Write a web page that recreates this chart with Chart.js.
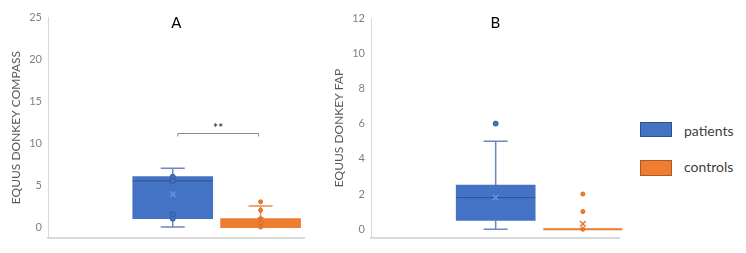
<!DOCTYPE html>
<html>
<head>
<meta charset="utf-8">
<script src="https://cdn.jsdelivr.net/npm/chart.js@4.4.0/dist/chart.umd.min.js"></script>
<style>
  body { margin: 0; background: #fff; width: 746px; height: 253px; position: relative; overflow: hidden; font-family: Lato, sans-serif; }
  #wrapA { position: absolute; left: 0; top: 0; width: 310px; height: 253px; }
  #wrapB { position: absolute; left: 323px; top: 0; width: 302px; height: 253px; }
  .legBox { position: absolute; left: 640px; width: 32px; height: 15px; box-sizing: border-box; }
  .legTxt { position: absolute; left: 684px; font-size: 14px; color: #404040; line-height: 16px; }
</style>
</head>
<body>
<div id="wrapA"><canvas id="chartA"></canvas></div>
<div id="wrapB"><canvas id="chartB"></canvas></div>
<div class="legBox" style="top:122px;background:#4472C4;border:1px solid #2F528F;"></div>
<div class="legTxt" style="top:123px;">patients</div>
<div class="legBox" style="top:160px;height:16px;background:#ED7D31;border:1px solid #AE5A21;"></div>
<div class="legTxt" style="top:159px;">controls</div>
<script>
// series order everywhere: [patients, controls]
const categories = ['patients', 'controls'];
const titleA = 'A';
const titleB = 'B';
const yTitleA = 'EQUUS DONKEY COMPASS';
const yTitleB = 'EQUUS DONKEY FAP';
const yTicksA = [0, 5, 10, 15, 20, 25];
const yTicksB = [0, 2, 4, 6, 8, 10, 12];

// panel A - compass
const compassMin = [0, 0];
const compassQ1 = [1, 0];
const compassMedian = [5.5, 0];
const compassQ3 = [6, 1];
const compassMax = [7, 2.5];
const compassMean = [3.9, 0.8];
const compassPoints = [[6, 5.5, 1.5, 1], [3, 2, 1, 0.5, 0]];
const compassSigLevel = 11.2;
const compassSigText = '**';

// panel B - FAP
const fapMin = [0, 0];
const fapQ1 = [0.5, 0];
const fapMedian = [1.8, 0];
const fapQ3 = [2.5, 0];
const fapMax = [5, 0];
const fapMean = [1.8, 0.3];
const fapPoints = [[6], [2, 1, 0]];

const fillColors = ['#4472C4', '#ED7D31'];
const whiskerColors = ['#6d87bf', '#EE8A4A'];
const medianColors = ['#2F5597', '#ED7D31'];
const pointColors = ['#4472C4', '#ED7D31'];
const pointBorders = ['#3558a0', '#D96A22'];
const meanColors = ['#6f90d4', '#E0732A'];

const boxParts = {
    id: 'boxParts',
    beforeDatasetsDraw(chart, args, opts) {
        const ctx = chart.ctx, x = chart.scales.x, y = chart.scales.y;
        const s = opts.stats;
        ctx.save();
        ctx.lineWidth = 1.5;
        categories.forEach((c, i) => {
            if (s.max[i] === s.min[i]) return;
            const cx = x.getPixelForValue(i + 1);
            ctx.strokeStyle = whiskerColors[i];
            ctx.beginPath();
            ctx.moveTo(cx, y.getPixelForValue(s.min[i]));
            ctx.lineTo(cx, y.getPixelForValue(s.q1[i]));
            ctx.moveTo(cx, y.getPixelForValue(s.q3[i]));
            ctx.lineTo(cx, y.getPixelForValue(s.max[i]));
            [s.min[i], s.max[i]].forEach(v => {
                const py = y.getPixelForValue(v);
                ctx.moveTo(cx - 12, py);
                ctx.lineTo(cx + 12, py);
            });
            ctx.stroke();
        });
        ctx.restore();
    },
    afterDatasetDraw(chart, args, opts) {
        if (args.meta.type !== 'bar') return;
        const i = args.index;
        const ctx = chart.ctx, x = chart.scales.x, y = chart.scales.y;
        const cx = x.getPixelForValue(i + 1);
        const py = y.getPixelForValue(opts.stats.median[i]);
        ctx.save();
        ctx.strokeStyle = medianColors[i];
        ctx.lineWidth = i === 0 ? 1 : 2;
        ctx.beginPath();
        ctx.moveTo(cx - opts.boxWidth / 2, py);
        ctx.lineTo(cx + opts.boxWidth / 2, py);
        ctx.stroke();
        ctx.restore();
    },
    afterDraw(chart, args, opts) {
        const ctx = chart.ctx, x = chart.scales.x, y = chart.scales.y, a = chart.chartArea;
        ctx.save();
        ctx.fillStyle = '#000';
        ctx.font = '15px Lato, sans-serif';
        ctx.textAlign = 'center';
        ctx.textBaseline = 'middle';
        ctx.fillText(opts.title, (a.left + a.right) / 2, 23);
        if (opts.sigText) {
            const x1 = x.getPixelForValue(1) + 5, x2 = x.getPixelForValue(2) - 2;
            const py = Math.round(y.getPixelForValue(opts.sigLevel)) + 0.5;
            ctx.strokeStyle = '#8c8c8c';
            ctx.lineWidth = 1;
            ctx.beginPath();
            ctx.moveTo(x1, py + 3);
            ctx.lineTo(x1, py);
            ctx.lineTo(x2, py);
            ctx.lineTo(x2, py + 3);
            ctx.stroke();
            ctx.fillStyle = '#404040';
            ctx.font = 'bold 12px Lato, sans-serif';
            ctx.fillText(opts.sigText, (x1 + x2) / 2, py - 5);
        }
        ctx.restore();
    }
};

function makePanel(id, cfg) {
    const datasets = [];
    categories.forEach((c, i) => {
        datasets.push({
            type: 'bar',
            label: c,
            data: [{ x: i + 1, y: [cfg.stats.q1[i], cfg.stats.q3[i]] }],
            backgroundColor: fillColors[i],
            borderWidth: 0,
            barThickness: cfg.boxWidth,
            grouped: false,
            order: 3
        });
    });
    categories.forEach((c, i) => {
        datasets.push({
            type: 'scatter',
            label: c + ' points',
            data: cfg.points[i].map(v => ({ x: i + 1, y: v })),
            pointStyle: 'circle',
            pointRadius: i === 0 ? 2.5 : 2,
            backgroundColor: pointColors[i],
            borderColor: pointBorders[i],
            borderWidth: 1,
            order: 1
        });
        datasets.push({
            type: 'scatter',
            label: c + ' mean',
            data: [{ x: i + 1, y: cfg.stats.mean[i] }],
            pointStyle: 'crossRot',
            pointRadius: 4,
            borderColor: meanColors[i],
            borderWidth: 1.5,
            order: 0
        });
    });

    return new Chart(document.getElementById(id), {
        type: 'bar',
        data: { datasets: datasets },
        plugins: [boxParts],
        options: {
            responsive: true,
            maintainAspectRatio: false,
            animation: false,
            layout: { padding: { left: 0, top: cfg.padTop, right: 5, bottom: 15 } },
            plugins: {
                legend: { display: false },
                tooltip: { enabled: false },
                boxParts: {
                    stats: cfg.stats,
                    boxWidth: cfg.boxWidth,
                    title: cfg.title,
                    sigLevel: cfg.sigLevel,
                    sigText: cfg.sigText
                }
            },
            scales: {
                x: {
                    type: 'linear',
                    offset: false,
                    min: cfg.xMin,
                    max: cfg.xMax,
                    ticks: { display: false },
                    grid: { display: false, drawTicks: false, tickLength: 0 },
                    border: { display: true, color: '#d9d9d9', width: 2 }
                },
                y: {
                    min: cfg.yMin,
                    max: cfg.yMax,
                    afterBuildTicks: s => { s.ticks = cfg.yTicks.map(v => ({ value: v })); },
                    afterFit: s => { s.width = 48; },
                    ticks: {
                        padding: 6,
                        color: '#808080',
                        font: { family: 'Lato, sans-serif', size: 11 }
                    },
                    grid: { display: false, drawTicks: false, tickLength: 0 },
                    border: { display: true, color: '#d9d9d9', width: 1 },
                    title: {
                        display: true,
                        text: cfg.yTitle,
                        color: '#595959',
                        padding: { top: 9, bottom: 0 },
                        font: { family: 'Lato, sans-serif', size: 12 }
                    }
                }
            }
        }
    });
}

makePanel('chartA', {
    title: titleA,
    yTitle: yTitleA,
    yTicks: yTicksA,
    yMin: -1.3,
    yMax: 25,
    xMin: -0.42,
    xMax: 2.5,
    padTop: 17,
    boxWidth: 80,
    points: compassPoints,
    sigLevel: compassSigLevel,
    sigText: compassSigText,
    stats: { min: compassMin, q1: compassQ1, median: compassMedian, q3: compassQ3, max: compassMax, mean: compassMean }
});

makePanel('chartB', {
    title: titleB,
    yTitle: yTitleB,
    yTicks: yTicksB,
    yMin: -0.5,
    yMax: 12,
    xMin: -0.43,
    xMax: 2.42,
    padTop: 18,
    boxWidth: 79,
    points: fapPoints,
    stats: { min: fapMin, q1: fapQ1, median: fapMedian, q3: fapQ3, max: fapMax, mean: fapMean }
});
</script>
</body>
</html>
